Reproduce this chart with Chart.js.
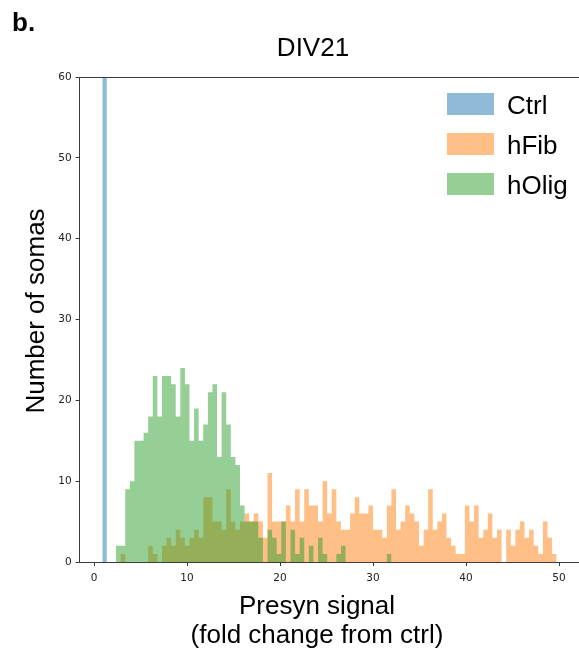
<!DOCTYPE html>
<html><head><meta charset="utf-8">
<script src="https://cdn.jsdelivr.net/npm/chart.js@4.4.1/dist/chart.umd.min.js"></script>
<style>html,body{margin:0;padding:0;background:#fff;} #wrap{position:relative;width:579px;height:651px;}</style>
</head><body><div id="wrap"><canvas id="c" width="579" height="651"></canvas></div>
<script>
// ---- data (histogram counts per bin) ----
const seriesNames = ['Ctrl', 'hFib', 'hOlig'];
const binStart = 0.89;      // left edge of first bin
const binWidth = 0.4935;    // bin width (fold change units)
const ctrlCounts = [100];   // bar runs off the top of the axis
const hFibCounts = [0,0,0,
  0,1,0,0,0,0,0,2,1,0,
  2,3,2,4,3,2,3,4,3,8,
  8,5,5,4,9,5,4,5,6,5,
  6,5,3,11,5,5,5,7,5,9,
  5,9,7,7,5,10,6,9,5,4,
  4,6,8,6,6,7,4,4,3,7,
  9,4,5,7,6,5,2,4,9,4,
  5,6,3,2,1,1,7,5,7,3,
  4,6,3,4,0,4,2,4,5,3,
  4,2,1,5,3,1];
const hOligCounts = [0,0,0,
  2,2,9,10,15,15,16,18,23,18,
  23,23,22,18,24,22,15,19,15,17,
  21,22,13,21,17,13,12,7,5,5,
  5,3,0,4,3,1,5,0,4,1,
  3,0,2,0,3,1,0,0,1,2,
  0,0,0,0,0,0,0,0,0,1];
const xTicks = [0, 10, 20, 30, 40, 50];
const yTicks = [0, 10, 20, 30, 40, 50, 60];
const panelLabel = 'b.';
const titleText = 'DIV21';
const xTitle = ['Presyn signal', '(fold change from ctrl)'];
const yTitle = 'Number of somas';

const seriesColors = ['rgba(31,119,180,0.5)', 'rgba(255,127,14,0.5)', 'rgba(44,160,44,0.5)'];

// step outline: one point per bin left edge, plus closing right edge
function toStepPoints(counts) {
  const pts = counts.map((v, i) => ({ x: binStart + binWidth * i, y: v }));
  pts.push({ x: binStart + binWidth * counts.length, y: 0 });
  return pts;
}

const TXT = '"Liberation Sans", Arial, sans-serif';
const AX = '#3a3a3a';

const decor = {
  id: 'decor',
  afterDraw(chart) {
    const { ctx, chartArea: a } = chart;
    ctx.save();
    ctx.strokeStyle = AX; ctx.lineWidth = 1;
    ctx.beginPath(); ctx.moveTo(a.left, Math.round(a.top) + 0.5); ctx.lineTo(a.right, Math.round(a.top) + 0.5); ctx.stroke();
    ctx.fillStyle = '#000';
    ctx.textBaseline = 'alphabetic';
    ctx.font = 'bold 26px ' + TXT; ctx.textAlign = 'left';
    ctx.fillText(panelLabel, 12, 31);
    ctx.font = '26px ' + TXT; ctx.textAlign = 'center';
    ctx.fillText(titleText, 313, 56);
    ctx.fillText(xTitle[0], 317, 614);
    ctx.fillText(xTitle[1], 317, 643);
    ctx.save(); ctx.translate(44, 311); ctx.rotate(-Math.PI / 2);
    ctx.fillText(yTitle, 0, 0); ctx.restore();
    const ds = chart.data.datasets;
    ctx.textAlign = 'left';
    ds.forEach((d, i) => {
      const cy = 104 + 40 * i;
      ctx.fillStyle = d.backgroundColor;
      ctx.fillRect(447, cy - 11, 47, 22);
      ctx.fillStyle = '#000';
      ctx.fillText(d.label, 507, cy + 9.5);
    });
    ctx.restore();
  }
};

const common = { borderWidth: 0, pointRadius: 0, pointHoverRadius: 0, stepped: 'before', fill: 'origin', tension: 0 };

new Chart(document.getElementById('c').getContext('2d'), {
  type: 'line',
  data: {
    datasets: [
      Object.assign({ label: seriesNames[0], data: toStepPoints(ctrlCounts), backgroundColor: seriesColors[0], borderColor: seriesColors[0], order: 3 }, common),
      Object.assign({ label: seriesNames[1], data: toStepPoints(hFibCounts), backgroundColor: seriesColors[1], borderColor: seriesColors[1], order: 2 }, common),
      Object.assign({ label: seriesNames[2], data: toStepPoints(hOligCounts), backgroundColor: seriesColors[2], borderColor: seriesColors[2], order: 1 }, common)
    ]
  },
  options: {
    responsive: false,
    animation: false,
    devicePixelRatio: 1,
    layout: { padding: { top: 77, left: 0, right: 0, bottom: 0 } },
    plugins: { legend: { display: false }, tooltip: { enabled: false }, title: { display: false } },
    scales: {
      x: {
        type: 'linear', min: -1.55, max: 52.15, offset: false,
        grid: { display: true, drawOnChartArea: false, drawTicks: true, tickLength: 4, color: AX },
        border: { display: true, color: AX, width: 1 },
        ticks: { font: { family: '"DejaVu Sans"', size: 10.5 }, color: '#222', padding: 6, maxRotation: 0 },
        afterBuildTicks: s => { s.ticks = xTicks.map(v => ({ value: v })); },
        afterFit: s => { s.height = 89; }
      },
      y: {
        min: 0, max: 60,
        grid: { display: true, drawOnChartArea: false, drawTicks: true, tickLength: 4, color: AX },
        border: { display: true, color: AX, width: 1 },
        ticks: { font: { family: '"DejaVu Sans"', size: 10.5 }, color: '#222', padding: 4 },
        afterBuildTicks: s => { s.ticks = yTicks.map(v => ({ value: v })); },
        afterFit: s => { s.width = 79.6; }
      }
    }
  },
  plugins: [decor]
});
</script>
</body></html>
